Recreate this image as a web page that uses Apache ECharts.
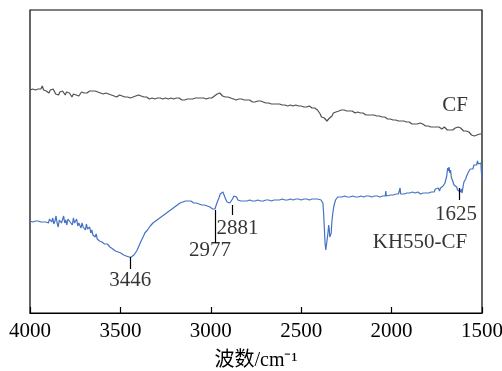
<!DOCTYPE html>
<html>
<head>
<meta charset="utf-8">
<script src="https://cdn.jsdelivr.net/npm/echarts@6/dist/echarts.min.js"></script>
<style>html,body{margin:0;padding:0;background:#fff}#c{width:502px;height:371px}</style>
</head>
<body>
<div id="c"></div>
<script>
// x tick values (wavenumber, cm-1)
const xTicks = [4000, 3500, 3000, 2500, 2000, 1500];

// CF spectrum: [wavenumber, intensity (a.u.)]
const cfSpectrum = [
[4000,223],[3992,222],[3985,224],[3978,225],[3970,223],[3962,225],[3955,224],[3948,226],[3940,224],[3932,227],
[3925,223],[3918,225],[3910,222],[3902,224],[3895,220],[3888,223],[3880,221],[3872,224],[3865,222],[3858,219],
[3850,221],[3842,218],[3835,221],[3828,219],[3820,222],[3812,220],[3805,218],[3798,221],[3790,223],[3782,220],
[3775,219],[3768,216],[3760,219],[3752,217],[3745,218],[3738,220],[3730,217],[3722,219],[3715,221],[3708,219],
[3700,220],[3692,222],[3685,220],[3678,221],[3670,222],[3662,220],[3655,222],[3648,221],[3640,222],[3632,224],
[3625,221],[3618,223],[3610,220],[3602,222],[3595,219],[3588,221],[3580,220],[3572,222],[3565,219],[3558,221],
[3550,218],[3542,220],[3535,217],[3528,219],[3520,216],[3512,218],[3505,218],[3498,219],[3490,217],[3482,219],
[3475,216],[3468,218],[3460,216],[3452,218],[3445,215],[3438,217],[3430,216],[3422,215],[3415,217],[3408,216],
[3400,218],[3392,216],[3385,217],[3378,218],[3370,216],[3362,218],[3355,216],[3348,217],[3340,214],[3332,216],
[3325,215],[3318,216],[3310,214],[3302,216],[3295,215],[3288,216],[3280,215],[3272,216],[3265,214],[3258,216],
[3250,215],[3242,216],[3235,214],[3228,215],[3220,215],[3212,216],[3205,214],[3198,216],[3190,215],[3182,213],
[3175,215],[3168,214],[3160,213],[3152,215],[3145,213],[3138,215],[3130,214],[3122,215],[3115,214],[3108,216],
[3100,214],[3092,216],[3085,215],[3078,216],[3070,215],[3062,216],[3055,215],[3048,216],[3040,215],[3032,215],
[3025,214],[3018,215],[3010,215],[3002,215],[2995,215],[2988,216],[2980,217],[2972,218],[2965,219],[2958,219],
[2950,220],[2942,218],[2935,217],[2928,216],[2920,216],[2912,215],[2905,216],[2898,214],[2890,215],[2882,213],
[2875,214],[2868,215],[2860,213],[2852,214],[2845,214],[2838,213],[2830,214],[2822,212],[2815,213],[2808,212],
[2800,213],[2792,212],[2785,213],[2778,212],[2770,211],[2762,212],[2755,211],[2748,212],[2740,212],[2732,211],
[2725,212],[2718,210],[2710,211],[2702,210],[2695,210],[2688,211],[2680,210],[2672,210],[2665,209],[2658,210],
[2650,209],[2642,210],[2635,209],[2628,208],[2620,209],[2612,208],[2605,208],[2598,209],[2590,208],[2582,208],
[2575,207],[2568,208],[2560,208],[2552,208],[2545,207],[2538,208],[2530,208],[2522,208],[2515,207],[2508,208],
[2500,207],[2492,207],[2485,206],[2478,207],[2470,206],[2462,206],[2455,207],[2448,205],[2440,205],[2432,204],
[2425,205],[2418,204],[2410,203],[2402,202],[2395,199],[2388,196],[2380,197],[2372,195],[2365,193],[2358,192],
[2350,194],[2343,195],[2336,193],[2330,197],[2322,200],[2315,200],[2308,201],[2300,202],[2292,202],[2285,203],
[2278,203],[2270,202],[2262,203],[2255,203],[2248,202],[2240,202],[2232,202],[2225,201],[2218,202],[2210,201],
[2202,200],[2195,200],[2188,201],[2180,200],[2172,200],[2165,199],[2158,200],[2150,199],[2142,198],[2135,199],
[2128,198],[2120,198],[2112,198],[2105,197],[2098,198],[2090,197],[2082,197],[2075,196],[2068,197],[2060,196],
[2052,196],[2045,195],[2038,196],[2030,195],[2022,194],[2015,195],[2008,194],[2000,194],[1992,193],[1985,194],
[1978,193],[1970,193],[1962,192],[1955,193],[1948,192],[1940,191],[1932,192],[1925,191],[1918,191],[1910,190],
[1902,191],[1895,190],[1888,189],[1880,190],[1872,189],[1865,190],[1858,189],[1850,189],[1842,190],[1835,188],
[1828,189],[1820,188],[1812,187],[1805,188],[1798,187],[1790,188],[1782,186],[1775,187],[1768,186],[1760,185],
[1752,186],[1745,185],[1738,186],[1730,185],[1722,184],[1715,185],[1708,186],[1700,184],[1692,183],[1685,184],
[1678,183],[1670,184],[1662,183],[1655,184],[1648,185],[1640,187],[1632,186],[1625,184],[1618,185],[1610,183],
[1602,182],[1595,181],[1588,182],[1580,180],[1572,181],[1565,179],[1558,178],[1550,178],[1542,177],[1535,178],
[1528,178],[1520,179],[1512,179],[1505,178],[1500,179]
];

// KH550-CF spectrum: [wavenumber, intensity (a.u.)]
const khSpectrum = [
[4000,92],[3992,92],[3985,91],[3978,92],[3970,92],[3962,91],[3955,92],[3948,92],[3940,91],[3932,92],
[3925,91],[3918,93],[3911,91],[3905,93],[3898,90],[3892,94],[3886,92],[3880,91],[3874,95],[3868,89],
[3862,92],[3856,97],[3850,90],[3844,86],[3838,93],[3832,95],[3826,90],[3820,92],[3814,97],[3808,90],
[3802,93],[3796,88],[3790,94],[3784,96],[3778,91],[3772,93],[3766,88],[3760,95],[3754,90],[3748,89],
[3742,94],[3736,87],[3730,90],[3724,92],[3718,85],[3712,90],[3706,86],[3700,88],[3694,83],[3688,89],
[3682,84],[3676,82],[3670,86],[3664,80],[3658,83],[3652,78],[3646,80],[3640,76],[3634,79],[3628,74],
[3622,75],[3616,72],[3610,73],[3602,71],[3595,70],[3588,69],[3580,68],[3572,69],[3565,67],[3558,66],
[3550,65],[3542,64],[3535,63],[3528,62],[3520,62],[3512,61],[3505,60],[3498,60],[3490,59],[3482,58],
[3475,58],[3468,57],[3460,56],[3452,56],[3446,56],[3440,56],[3432,57],[3425,58],[3418,60],[3410,62],
[3402,64],[3395,68],[3388,71],[3380,74],[3372,77],[3365,80],[3358,82],[3350,83],[3342,85],[3335,87],
[3328,88],[3320,90],[3312,91],[3305,92],[3298,93],[3290,94],[3282,95],[3275,96],[3268,97],[3260,98],
[3252,99],[3245,100],[3238,101],[3230,102],[3222,103],[3215,104],[3208,105],[3200,106],[3192,107],[3185,108],
[3178,109],[3170,110],[3162,110],[3155,111],[3148,111],[3140,112],[3132,111],[3125,112],[3118,111],[3110,112],
[3102,111],[3095,110],[3088,111],[3080,110],[3072,110],[3065,109],[3058,109],[3050,108],[3042,108],[3035,108],
[3028,107],[3020,107],[3012,106],[3005,106],[2998,105],[2990,104],[2982,103],[2977,104],[2970,108],[2962,112],
[2955,115],[2948,119],[2940,121],[2933,121],[2926,119],[2918,114],[2910,111],[2902,109],[2895,110],[2888,112],
[2880,114],[2872,117],[2865,118],[2858,116],[2850,113],[2842,112],[2835,112],[2828,111],[2820,112],[2812,112],
[2800,112],[2785,113],[2770,112],[2755,112],[2740,113],[2725,112],[2710,112],[2695,113],[2680,113],[2665,112],
[2650,113],[2635,113],[2620,113],[2605,114],[2590,113],[2575,113],[2560,114],[2545,113],[2530,114],[2515,114],
[2500,113],[2485,114],[2470,114],[2455,113],[2440,114],[2425,114],[2410,114],[2400,113],[2390,113],[2385,112],
[2380,110],[2376,100],[2372,85],[2368,70],[2364,63],[2360,62],[2356,64],[2352,80],[2348,88],[2345,84],
[2342,76],[2338,74],[2334,80],[2330,92],[2325,100],[2320,106],[2315,110],[2310,113],[2305,115],[2298,116],
[2290,116],[2275,116],[2260,117],[2245,116],[2230,116],[2215,117],[2200,116],[2185,116],[2170,117],[2155,116],
[2140,117],[2125,117],[2110,116],[2095,117],[2080,117],[2065,116],[2050,117],[2040,117],[2035,117],[2032,122],
[2029,117],[2020,117],[2005,118],[1990,118],[1975,119],[1962,119],[1955,119],[1953,125],[1950,119],[1940,118],
[1930,119],[1922,118],[1915,120],[1908,119],[1900,120],[1892,119],[1885,121],[1878,119],[1870,120],[1862,119],
[1855,121],[1848,120],[1840,119],[1832,121],[1825,120],[1818,122],[1810,120],[1802,121],[1795,120],[1788,122],
[1780,121],[1772,123],[1765,121],[1758,124],[1750,122],[1742,125],[1735,122],[1730,125],[1722,124],[1715,127],
[1710,125],[1705,130],[1700,129],[1695,137],[1690,145],[1686,142],[1682,146],[1678,140],[1674,143],[1670,136],
[1665,134],[1660,131],[1655,128],[1650,127],[1645,129],[1640,126],[1635,123],[1630,125],[1625,122],[1620,121],
[1615,124],[1610,120],[1605,126],[1600,131],[1595,129],[1590,134],[1585,137],[1580,135],[1575,141],[1570,139],
[1565,144],[1560,142],[1555,146],[1550,144],[1545,148],[1540,146],[1535,150],[1530,148],[1525,152],[1520,149],
[1515,151],[1510,147],[1506,150],[1503,140],[1500,135]
];

// Peak annotations: wavenumber labels
const peakLabels = ['3446', '2977', '2881', '1625'];
const seriesNames = ['CF', 'KH550-CF'];

// tick segments [x, yFrom, yTo] for each peak (layout)
const peakTicks = [[3446, 56, 44], [2977, 103, 70], [2881, 108, 98], [1625, 125, 113]];
const labelAnchors = [[3446, 33], [3004, 63], [2852, 85], [1644, 99]];
const nameAnchors = [[1649, 208], [1843, 71]];

const FONT = '"Liberation Serif","Times New Roman","Noto Sans CJK SC",serif';
const chart = echarts.init(document.getElementById('c'), null, {renderer: 'canvas'});

const textData = [];
peakLabels.forEach((t, i) => textData.push({value: labelAnchors[i], name: t}));
seriesNames.forEach((t, i) => textData.push({value: nameAnchors[i], name: t}));

chart.setOption({
  animation: false,
  backgroundColor: '#fff',
  grid: {left: 30, right: 20, top: 10, bottom: 58, show: true, borderColor: '#000', borderWidth: 1.2,
    backgroundColor: 'transparent', containLabel: false, outerBoundsMode: 'none'},
  xAxis: {
    type: 'value', inverse: true, min: 1500, max: 4000, interval: 500,
    axisLine: {show: true, lineStyle: {color: '#000', width: 1.2}},
    axisTick: {show: true, inside: true, length: 6, lineStyle: {color: '#000', width: 1.2}},
    splitLine: {show: false},
    axisLabel: {color: '#000', fontSize: 21, fontFamily: FONT, margin: 8, showMinLabel: true, showMaxLabel: true,
      formatter: v => xTicks.indexOf(v) >= 0 ? String(v) : ''},
    name: '波数/cm⁻¹', nameLocation: 'middle', nameGap: 38,
    nameTextStyle: {color: '#000', fontSize: 20, fontFamily: FONT}
  },
  yAxis: {
    type: 'value', min: 0, max: 303,
    axisLine: {show: false}, axisTick: {show: false}, axisLabel: {show: false}, splitLine: {show: false}
  },
  series: [
    {name: seriesNames[0], type: 'line', data: cfSpectrum, showSymbol: false, symbol: 'none',
      lineStyle: {color: '#505050', width: 1.2}},
    {name: seriesNames[1], type: 'line', data: khSpectrum, showSymbol: false, symbol: 'none',
      lineStyle: {color: '#4472c4', width: 1.2},
      markLine: {
        silent: true, symbol: 'none', label: {show: false},
        lineStyle: {color: '#000', width: 1.2, type: 'solid'},
        data: peakTicks.map(p => [{coord: [p[0], p[1]]}, {coord: [p[0], p[2]]}])
      }},
    {type: 'scatter', data: textData, symbol: 'circle', symbolSize: 1, silent: true,
      itemStyle: {color: 'rgba(0,0,0,0)'},
      label: {show: true, position: 'inside', formatter: p => p.name, color: '#000', fontSize: 21, fontFamily: FONT}}
  ]
});
</script>
</body>
</html>
